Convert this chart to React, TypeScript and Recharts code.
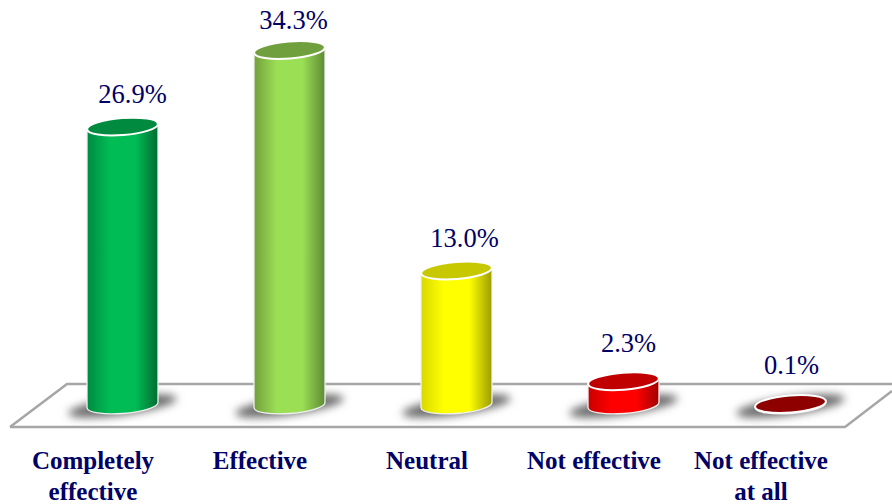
import { BarChart, Bar, XAxis, YAxis, LabelList } from "recharts";

const categories = [
  "Completely\neffective",
  "Effective",
  "Neutral",
  "Not effective",
  "Not effective\nat all",
];
const shares = [26.9, 34.3, 13.0, 2.3, 0.1];

const midColors = ["#00BC55", "#9BDF55", "#FFFF00", "#FF0000", "#990000"];
const leftColors = ["#008A42", "#739F3C", "#D8D800", "#C80000", "#700000"];
const rightColors = ["#006C33", "#5F8A35", "#9C9C00", "#A00000", "#700000"];
const capColors = ["#008A40", "#70A03E", "#C8C800", "#C00000", "#8E0000"];

// the value labels do not sit quite centred over their cylinders
const labelNudgeX = [10, 4, 8, 5, 1];
const labelNudgeY = [-1, 2, 0, -6, -7];

const NAVY = "#000066";
const RX = 35.5;
const RY = 8.5;
const TILT = -4.5;
const TILT_DY = 2.75;

function Cylinder(props: any) {
  const { x, y, width, height, index } = props;
  const cx = x + width / 2;
  const base = y + height;
  const body =
    `M${cx - RX},${y + TILT_DY} L${cx - RX},${base + TILT_DY} ` +
    `A${RX},${RY} ${TILT} 0 0 ${cx + RX},${base - TILT_DY} ` +
    `L${cx + RX},${y - TILT_DY} Z`;

  return (
    <g>
      <ellipse
        cx={cx}
        cy={base + 1}
        rx={RX + 19}
        ry={RY + 0.5}
        fill="#6A6A6A"
        filter="url(#floorShadow)"
        transform={`rotate(-8 ${cx} ${base + 1})`}
      />
      <path d={body} fill={`url(#body${index})`} stroke="#F0F0F0" strokeWidth={1.3} />
      <ellipse
        cx={cx}
        cy={y}
        rx={RX}
        ry={RY}
        fill={capColors[index]}
        stroke="#FFFFFF"
        strokeWidth={2}
        transform={`rotate(${TILT} ${cx} ${y})`}
      />
    </g>
  );
}

function ShareLabel(props: any) {
  const { x, y, width, index, value } = props;
  return (
    <text
      x={x + width / 2 + labelNudgeX[index]}
      y={y - 23 + labelNudgeY[index]}
      textAnchor="middle"
      fontFamily="Liberation Serif"
      fontSize={26.5}
      fill={NAVY}
    >
      {value.toFixed(1)}%
    </text>
  );
}

function CategoryTick(props: any) {
  const { x, payload } = props;
  return (
    <text
      textAnchor="middle"
      fontFamily="Liberation Serif"
      fontWeight="bold"
      fontSize={25}
      fill={NAVY}
    >
      {payload.value.split("\n").map((line: string, i: number) => (
        <tspan key={line} x={x - 29} y={469 + i * 31}>
          {line}
        </tspan>
      ))}
    </text>
  );
}

export default function App() {
  const data = categories.map((name, i) => ({ name, value: shares[i] }));

  return (
    <div style={{ position: "absolute", left: 0, top: 0 }}>
      <BarChart
        width={892}
        height={504}
        data={data}
        margin={{ top: 0, right: 18.5, left: 38.5, bottom: 0 }}
      >
        <defs>
          <filter id="floorShadow" x="-30%" y="-100%" width="160%" height="300%">
            <feGaussianBlur stdDeviation="4.5" />
          </filter>
          {midColors.map((mid, i) => (
            <linearGradient key={mid} id={`body${i}`} x1="0" y1="0" x2="1" y2="0">
              <stop offset="0%" stopColor={leftColors[i]} />
              <stop offset="32%" stopColor={mid} />
              <stop offset="68%" stopColor={mid} />
              <stop offset="100%" stopColor={rightColors[i]} />
            </linearGradient>
          ))}
        </defs>
        <polyline
          points="10,427 67,384 892,384"
          fill="none"
          stroke="#A6A6A6"
          strokeWidth={2.5}
        />
        <polyline
          points="892,391 845,427 10,427"
          fill="none"
          stroke="#A6A6A6"
          strokeWidth={2.5}
        />
        <XAxis
          dataKey="name"
          axisLine={false}
          tickLine={false}
          tick={<CategoryTick />}
          interval={0}
          height={99}
        />
        <YAxis hide domain={[0, 39.13]} />
        <Bar dataKey="value" barSize={70} shape={<Cylinder />} isAnimationActive={false}>
          <LabelList dataKey="value" content={<ShareLabel />} />
        </Bar>
      </BarChart>
    </div>
  );
}
